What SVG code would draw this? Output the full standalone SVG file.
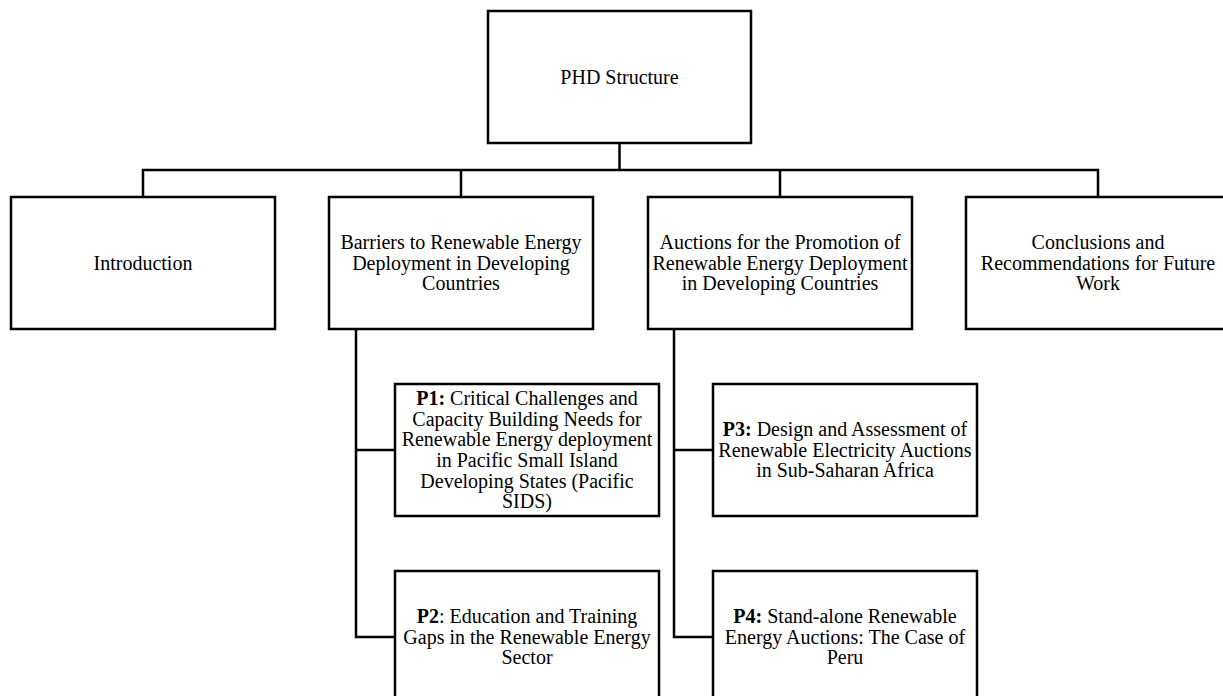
<svg xmlns="http://www.w3.org/2000/svg" width="1223" height="696" viewBox="0 0 1223 696">
<style>
.box{fill:#fff;stroke:#000;stroke-width:2.5}
.con{fill:none;stroke:#000;stroke-width:2.5}
text{font-family:"Liberation Serif","Times New Roman",serif;font-size:20px;fill:#000;text-anchor:middle}
.b{font-weight:bold}
</style>
<rect width="1223" height="696" fill="#fff"/>
<g id="connectors">
<path class="con" d="M619.5 143V170M143 197V170H1098V197M461 170V197M780 170V197"/>
<path class="con" d="M356 329V637H395M356 450H395"/>
<path class="con" d="M674 329V637H713M674 450H713"/>
</g>
<g id="phd">
<rect class="box" x="488" y="11" width="263" height="132"/>
<text x="619.5" y="84">PHD Structure</text>
</g>
<g id="intro">
<rect class="box" x="11" y="197" width="264" height="132"/>
<text x="143" y="269.7">Introduction</text>
</g>
<g id="barriers">
<rect class="box" x="329" y="197" width="264" height="132"/>
<text x="461" y="249">Barriers to Renewable Energy</text>
<text x="461" y="269.7">Deployment in Developing</text>
<text x="461" y="290.4">Countries</text>
</g>
<g id="auctions">
<rect class="box" x="648" y="197" width="264" height="132"/>
<text x="780" y="249">Auctions for the Promotion of</text>
<text x="780" y="269.7">Renewable Energy Deployment</text>
<text x="780" y="290.4">in Developing Countries</text>
</g>
<g id="conclusions">
<rect class="box" x="966" y="197" width="264" height="132"/>
<text x="1098" y="249">Conclusions and</text>
<text x="1098" y="269.7">Recommendations for Future</text>
<text x="1098" y="290.4">Work</text>
</g>
<g id="p1">
<rect class="box" x="395" y="384" width="264" height="132"/>
<text x="527" y="405.2"><tspan class="b">P1:</tspan> Critical Challenges and</text>
<text x="527" y="425.8">Capacity Building Needs for</text>
<text x="527" y="446.4">Renewable Energy deployment</text>
<text x="527" y="467">in Pacific Small Island</text>
<text x="527" y="487.6">Developing States (Pacific</text>
<text x="527" y="508.2">SIDS)</text>
</g>
<g id="p2">
<rect class="box" x="395" y="571" width="264" height="132"/>
<text x="527" y="623"><tspan class="b">P2</tspan>: Education and Training</text>
<text x="527" y="643.7">Gaps in the Renewable Energy</text>
<text x="527" y="664.3">Sector</text>
</g>
<g id="p3">
<rect class="box" x="713" y="384" width="264" height="132"/>
<text x="845" y="436"><tspan class="b">P3:</tspan> Design and Assessment of</text>
<text x="845" y="456.7">Renewable Electricity Auctions</text>
<text x="845" y="477.3">in Sub-Saharan Africa</text>
</g>
<g id="p4">
<rect class="box" x="713" y="571" width="264" height="132"/>
<text x="845" y="623"><tspan class="b">P4:</tspan> Stand-alone Renewable</text>
<text x="845" y="643.7">Energy Auctions: The Case of</text>
<text x="845" y="664.3">Peru</text>
</g>
</svg>
